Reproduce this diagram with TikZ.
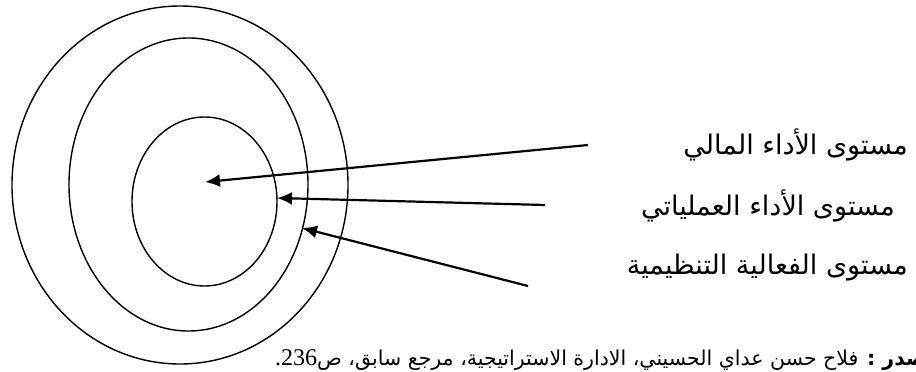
\documentclass[tikz,border=0pt]{standalone}
\usepackage{fontspec}
\newfontfamily\arabicfont[Script=Arabic]{DejaVu Sans}
\newfontfamily\numfont{Liberation Serif}
\usetikzlibrary{arrows.meta}
\TeXXeTstate=1

\begin{document}
\begin{tikzpicture}[x=1pt,y=-1pt,
  ring/.style={line width=1.4pt},
  pointer/.style={line width=2.2pt,-{Latex[length=15pt,width=13pt]}},
  level/.style={anchor=base east,inner sep=0pt,font=\arabicfont\fontsize{27}{32}\selectfont},
  source/.style={anchor=base west,inner sep=0pt,font=\arabicfont\fontsize{20.5}{24}\selectfont}]
  \useasboundingbox (0,0) rectangle (916,372);
  \clip (0,0) rectangle (916,372);
  % three levels
  \draw[ring] (180,185) ellipse [x radius=168, y radius=179];
  \draw[ring] (188.5,184.5) ellipse [x radius=119.5, y radius=146.5];
  \draw[ring] (204.5,201.5) ellipse [x radius=72.5, y radius=84.5];
  % arrow ends
  \coordinate (fin) at (205,182);
  \coordinate (ops) at (277,198);
  \coordinate (org) at (302,228);
  \coordinate (finstart) at (588,145);
  \coordinate (opsstart) at (545,205);
  \coordinate (orgstart) at (528,286);
  % labels
  \node[level] (finlabel) at (908,154) {\beginR مستوى الأداء المالي\endR};
  \node[level] (opslabel) at (895,215) {\beginR مستوى الأداء العملياتي\endR};
  \node[level] (orglabel) at (908,274) {\beginR مستوى الفعالية التنظيمية\endR};
  \draw[pointer] (finstart) -- (fin);
  \draw[pointer] (opsstart) -- (ops);
  \draw[pointer] (orgstart) -- (org);
  % source line, cut at the right edge as in the original
  \node[source] (src) at (275,365) {\beginR{\bfseries المصدر :} فلاح حسن عداي الحسيني، الادارة الاستراتيجية، مرجع سابق، ص\beginL{\numfont\fontsize{24}{28}\selectfont 236}\endL{\numfont\fontsize{24}{28}\selectfont .}\endR};
\end{tikzpicture}
\end{document}
